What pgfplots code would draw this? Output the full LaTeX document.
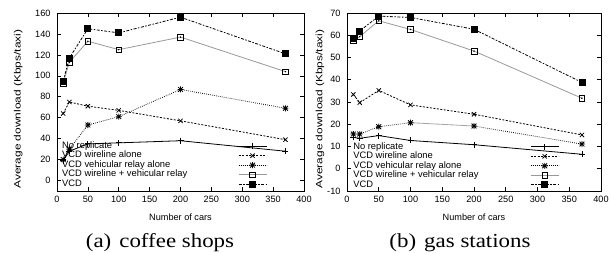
\documentclass[border=0pt]{standalone}
\usepackage{fontspec}
\setmainfont{Liberation Serif}
\setsansfont{Liberation Sans}
\usepackage{graphicx}
\usepackage{pgfplots}
\pgfplotsset{compat=1.18}
\newcommand{\tf}{\sffamily\fontsize{9.2}{9.2}\selectfont}
\newcommand{\lf}{\sffamily\fontsize{9.4}{9.4}\selectfont}
\makeatletter
\pgfdeclareplotmark{gstar}{%
 \pgfpathmoveto{\pgfqpoint{-\pgfplotmarksize}{0pt}}\pgfpathlineto{\pgfqpoint{\pgfplotmarksize}{0pt}}%
 \pgfpathmoveto{\pgfqpoint{0pt}{-\pgfplotmarksize}}\pgfpathlineto{\pgfqpoint{0pt}{\pgfplotmarksize}}%
 \pgfpathmoveto{\pgfqpoint{-0.8\pgfplotmarksize}{-0.8\pgfplotmarksize}}\pgfpathlineto{\pgfqpoint{0.8\pgfplotmarksize}{0.8\pgfplotmarksize}}%
 \pgfpathmoveto{\pgfqpoint{-0.8\pgfplotmarksize}{0.8\pgfplotmarksize}}\pgfpathlineto{\pgfqpoint{0.8\pgfplotmarksize}{-0.8\pgfplotmarksize}}%
 \pgfusepathqstroke}
\makeatother
\pgfplotsset{
 gp/.style={
  scale only axis, height=178bp, xmin=0, xmax=400, xtick={0,50,...,400},
  tick align=inside, tick pos=both, major tick length=4bp,
  axis line style={line width=0.8bp},
  every tick/.style={black, line width=0.6bp},
  /pgf/number format/assume math mode=true,
  tick label style={font=\tf},
  yticklabel style={xshift=-3bp},
  xticklabel style={yshift=-2bp},
  xlabel style={font=\tf, at={(axis description cs:0.5,-0.146)}, anchor=center},
  ylabel style={font=\tf, anchor=center},
  legend cell align=left, legend plot pos=right,
  legend style={draw=none, fill=none, anchor=north west, font=\lf,
    inner sep=0pt, column sep=0pt, row sep=1bp,
    nodes={inner sep=0pt, text height=6.5bp, text depth=2bp}},
  legend image code/.code={\draw[mark repeat=2,mark phase=2] plot coordinates {(0bp,0bp) (14bp,0bp) (28bp,0bp)};},
 },
 norep/.style={black, solid, line width=0.8bp, mark=+, mark size=3bp},
 wire/.style={black, line width=0.8bp, dash pattern=on 2bp off 1.5bp, mark=x, mark size=3bp, mark options={solid}},
 veh/.style={black, line width=0.8bp, dash pattern=on 0.7bp off 1.3bp, mark=gstar, mark size=3bp, mark options={solid}},
 wplus/.style={black!40, solid, line width=0.8bp, mark=square, mark size=2.8bp, mark options={black, solid, line width=0.6bp}},
 dot/.style={black, only marks, mark=*, mark size=0.5bp, forget plot},
 vcd/.style={black, line width=0.8bp, dash pattern=on 3bp off 1.5bp on 1.5bp off 1.5bp, mark=square*, mark size=3bp, mark options={solid}},
}
\begin{document}
\begin{tikzpicture}
\useasboundingbox (0,0) rectangle (611bp,253bp);
% ---------- (a) coffee shops
\begin{axis}[gp, at={(57bp,62bp)}, anchor=south west, width=247bp,
  ymin=-10, ymax=160, ytick={0,20,...,160},
  xlabel={Number of cars},
  ylabel={\scalebox{1.3}[1]{Average download (Kbps/taxi)}},
  ylabel style={at={(axis description cs:-0.157,0.46)}},
  legend style={at={(axis description cs:0.02,0.277)}}]
\addplot[norep] coordinates {(10,19) (20,28) (50,35) (100,36) (200,38) (370,28)};
\addlegendentry{\makebox[176bp][l]{No replicate}}
\addplot[wire] coordinates {(10,64) (20,75) (50,71) (100,67) (200,57) (370,39)};
\addlegendentry{\makebox[176bp][l]{VCD wireline alone}}
\addplot[veh] coordinates {(10,20) (20,30) (50,53) (100,61) (200,87) (370,69)};
\addlegendentry{\makebox[176bp][l]{VCD vehicular relay alone}}
\addplot[wplus] coordinates {(10,93) (20,113) (50,133) (100,125) (200,137) (370,104)};
\addlegendentry{\makebox[176bp][l]{VCD wireline + vehicular relay}}
\addplot[vcd] coordinates {(10,95) (20,117) (50,145) (100,141) (200,156) (370,121)};
\addlegendentry{\makebox[176bp][l]{VCD}}
\addplot[dot] coordinates {(10,93) (20,113) (50,133) (100,125) (200,137) (370,104)};
\end{axis}
% ---------- (b) gas stations
\begin{axis}[gp, at={(347bp,62bp)}, anchor=south west, width=254bp,
  ymin=-10, ymax=70, ytick={-10,0,...,70},
  xlabel={Number of cars},
  ylabel={\scalebox{1.3}[1]{Average download (Kbps/taxi)}},
  ylabel style={at={(axis description cs:-0.106,0.46)}},
  legend style={at={(axis description cs:0.024,0.273)}}]
\addplot[norep] coordinates {(10,14.1) (20,13.7) (50,14.9) (100,12.7) (200,10.8) (370,6.5)};
\addlegendentry{\makebox[177bp][l]{No replicate}}
\addplot[wire] coordinates {(10,33.4) (20,29.7) (50,35.2) (100,28.7) (200,24.5) (370,15.2)};
\addlegendentry{\makebox[177bp][l]{VCD wireline alone}}
\addplot[veh] coordinates {(10,15.6) (20,15.6) (50,18.9) (100,20.7) (200,19.2) (370,11.1)};
\addlegendentry{\makebox[177bp][l]{VCD vehicular relay alone}}
\addplot[wplus] coordinates {(10,57.6) (20,59.4) (50,66.5) (100,62.6) (200,52.9) (370,31.7)};
\addlegendentry{\makebox[177bp][l]{VCD wireline + vehicular relay}}
\addplot[vcd] coordinates {(10,58.6) (20,61.9) (50,68.6) (100,68.0) (200,62.7) (370,38.8)};
\addlegendentry{\makebox[177bp][l]{VCD}}
\addplot[dot] coordinates {(10,57.6) (20,59.4) (50,66.5) (100,62.6) (200,52.9) (370,31.7)};
\end{axis}
\node[anchor=base, font=\fontsize{20}{20}\selectfont] at (160bp,5.5bp) {\scalebox{1.15}[1]{(a)\hspace{0.35em}coffee shops}};
\node[anchor=base, font=\fontsize{20}{20}\selectfont] at (460bp,5.5bp) {\scalebox{1.15}[1]{(b)\hspace{0.35em}gas stations}};
\end{tikzpicture}
\end{document}
